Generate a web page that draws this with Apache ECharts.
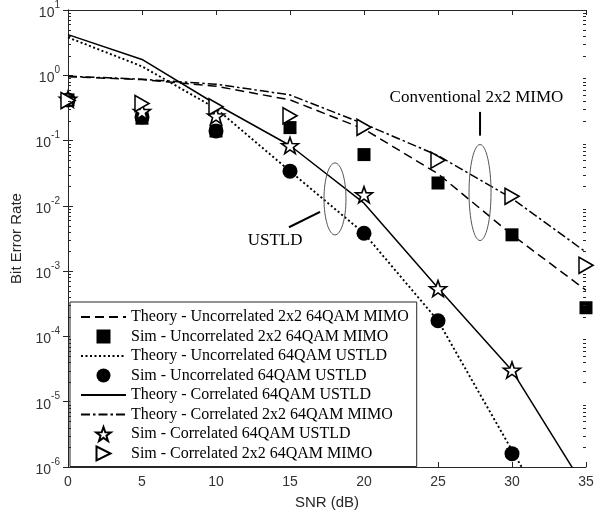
<!DOCTYPE html>
<html>
<head>
<meta charset="utf-8">
<script src="https://cdn.jsdelivr.net/npm/echarts@6.0.0/dist/echarts.min.js"></script>
<style>
  html, body { margin: 0; padding: 0; background: #fff; }
  #main { width: 608px; height: 518px; }
</style>
</head>
<body>
<div id="main"></div>
<script>
// SNR points (dB)
var snr = [0, 5, 10, 15, 20, 25, 30, 35];

// values
var theoryUncorrMimo  = [0.95, 0.86, 0.68, 0.42, 0.15, 0.031, 0.0036, 0.00051];
var simUncorrMimo     = [0.42, 0.22, 0.14, 0.158, 0.061, 0.0224, 0.0036, 0.000275];
var theoryUncorrUstld = [3.8, 1.37, 0.31, 0.034, 0.0038, 0.000174, 0.0000018, 0.00000002];
var simUncorrUstld    = [0.42, 0.23, 0.14, 0.034, 0.0038, 0.000174, 0.0000016];
var theoryCorrUstld   = [4.2, 1.75, 0.36, 0.084, 0.011, 0.00055, 0.00003, 0.00000045];
var theoryCorrMimo    = [0.97, 0.87, 0.73, 0.5, 0.18, 0.059, 0.013, 0.00195];
var simCorrUstld      = [0.43, 0.28, 0.24, 0.084, 0.0148, 0.00054, 0.0000305];
var simCorrMimo       = [0.41, 0.37, 0.33, 0.24, 0.16, 0.05, 0.014, 0.00123];

var xTicks = [0, 5, 10, 15, 20, 25, 30, 35];
var yDecades = [-6, -5, -4, -3, -2, -1, 0, 1];

var names = [
  'Theory - Uncorrelated 2x2 64QAM MIMO',
  'Sim - Uncorrelated 2x2 64QAM MIMO',
  'Theory - Uncorrelated 64QAM USTLD',
  'Sim - Uncorrelated 64QAM USTLD',
  'Theory - Correlated 64QAM USTLD',
  'Theory - Correlated 2x2 64QAM MIMO',
  'Sim - Correlated 64QAM USTLD',
  'Sim - Correlated 2x2 64QAM MIMO'
];

var STAR = 'path://M50,0L61.76,33.82L97.55,34.55L69.02,56.18L79.39,90.45L50,70L20.61,90.45L30.98,56.18L2.45,34.55L38.24,33.82Z';
var TRI_RIGHT = 'path://M0,0L100,50L0,100Z';
var SQUARE = 'path://M0,0L10,0L10,10L0,10Z';

var axisColor = '#262626';
var serif = '"Liberation Serif", "Times New Roman", serif';
var sans = '"Liberation Sans", Arial, sans-serif';

function pts(arr) {
  return arr.map(function (v, i) { return [snr[i], v]; });
}

function theory(name, arr, dash, w) {
  return {
    name: name,
    type: 'line',
    data: pts(arr),
    symbol: 'none',
    clip: true,
    z: 2,
    lineStyle: { color: '#000', width: w || 1.5, type: dash },
    itemStyle: { color: '#000' }
  };
}

function sim(name, arr, symbol, size, filled) {
  return {
    name: name,
    type: 'scatter',
    data: pts(arr),
    symbol: symbol,
    symbolSize: size,
    z: 3,
    itemStyle: filled
      ? { color: '#000', borderColor: '#000', borderWidth: 0, opacity: 1 }
      : { color: '#fff', borderColor: '#000', borderWidth: 1.6, opacity: 1 }
  };
}

// legend entries: theory lines get no marker in the middle
var legendData = names.map(function (n) {
  if (n.indexOf('Theory') === 0) {
    return { name: n, itemStyle: { color: 'rgba(0,0,0,0)', borderColor: 'rgba(0,0,0,0)', borderWidth: 0 } };
  }
  return { name: n };
});

var chart = echarts.init(document.getElementById('main'), null, { renderer: 'canvas' });

var option = {
  animation: false,
  backgroundColor: '#fff',
  grid: { left: 68, right: 22, top: 5, bottom: 51, show: false },
  legend: {
    orient: 'vertical',
    left: 70,
    top: 302,
    padding: [7, 8, 5, 10],
    itemWidth: 45,
    itemHeight: 14,
    itemGap: 3.5,
    backgroundColor: '#fff',
    borderColor: axisColor,
    borderWidth: 1,
    borderRadius: 0,
    textStyle: { fontFamily: serif, fontSize: 16, color: '#000', lineHeight: 16 },
    data: legendData
  },
  xAxis: [{
    type: 'value',
    min: 0,
    max: 35,
    interval: 5,
    name: 'SNR (dB)',
    nameLocation: 'middle',
    nameGap: 28,
    nameTextStyle: { fontFamily: sans, fontSize: 15, color: axisColor },
    axisLine: { show: true, lineStyle: { color: axisColor, width: 1 } },
    axisTick: { show: true, inside: true, length: 5, lineStyle: { color: axisColor } },
    axisLabel: {
      margin: 8,
      fontFamily: sans,
      fontSize: 14,
      color: '#333',
      formatter: function (v) { return xTicks.indexOf(v) >= 0 ? String(v) : ''; }
    },
    splitLine: { show: false }
  }, {
    type: 'value',
    position: 'top',
    min: 0,
    max: 35,
    interval: 5,
    axisLine: { show: true, lineStyle: { color: axisColor, width: 1 } },
    axisTick: { show: true, inside: true, length: 5, lineStyle: { color: axisColor } },
    axisLabel: { show: false },
    splitLine: { show: false }
  }],
  yAxis: [{
    type: 'log',
    logBase: 10,
    min: 1e-6,
    max: 10,
    interval: 1,
    name: 'Bit Error Rate',
    nameLocation: 'middle',
    nameGap: 32,
    nameTextStyle: { fontFamily: sans, fontSize: 15, color: axisColor },
    axisLine: { show: true, lineStyle: { color: axisColor, width: 1 } },
    axisTick: { show: true, inside: true, length: 5, lineStyle: { color: axisColor } },
    axisLabel: {
      margin: 8,
      color: '#333',
      formatter: function (v) {
        var e = Math.round(Math.log10(v));
        return '{b|10}{s|' + e + '}';
      },
      rich: {
        b: { fontFamily: sans, fontSize: 14, color: '#333', verticalAlign: 'bottom', lineHeight: 20 },
        s: { fontFamily: sans, fontSize: 10, color: '#333', verticalAlign: 'top', lineHeight: 12 }
      }
    },
    splitLine: { show: false }
  }, {
    type: 'log',
    logBase: 10,
    min: 1e-6,
    max: 10,
    interval: 1,
    position: 'right',
    axisLine: { show: true, lineStyle: { color: axisColor, width: 1 } },
    axisTick: { show: true, inside: true, length: 5, lineStyle: { color: axisColor } },
    axisLabel: { show: false },
    splitLine: { show: false }
  }],
  series: [
    theory(names[0], theoryUncorrMimo, [9, 5]),
    sim(names[1], simUncorrMimo, SQUARE, 13, true),
    theory(names[2], theoryUncorrUstld, [2, 2.5], 1.9),
    sim(names[3], simUncorrUstld, 'circle', 15, true),
    theory(names[4], theoryCorrUstld, 'solid'),
    theory(names[5], theoryCorrMimo, [9, 3, 2.5, 3]),
    sim(names[6], simCorrUstld, STAR, [17, 16], false),
    sim(names[7], simCorrMimo, TRI_RIGHT, [14, 16], false)
  ]
};

chart.setOption(option);

// minor log ticks + annotations, placed through the axes
var gfx = [];
var xl = chart.convertToPixel({ xAxisIndex: 0 }, 0);
var xr = chart.convertToPixel({ xAxisIndex: 0 }, 35);
yDecades.slice(0, -1).forEach(function (e) {
  for (var k = 2; k <= 9; k++) {
    var y = Math.round(chart.convertToPixel({ yAxisIndex: 0 }, k * Math.pow(10, e))) + 0.5;
    gfx.push({ type: 'line', silent: true, z: 10, shape: { x1: xl, y1: y, x2: xl + 3, y2: y }, style: { stroke: axisColor, lineWidth: 1 } });
    gfx.push({ type: 'line', silent: true, z: 10, shape: { x1: xr - 3, y1: y, x2: xr, y2: y }, style: { stroke: axisColor, lineWidth: 1 } });
  }
});

function px(p) { return chart.convertToPixel({ gridIndex: 0 }, p); }

// "Conventional 2x2 MIMO" group
var c1 = px([27.84, 0.016]);
gfx.push({ type: 'ellipse', silent: true, z: 5, shape: { cx: c1[0], cy: c1[1], rx: 11, ry: 48 }, style: { fill: 'none', stroke: '#555', lineWidth: 1 } });
var l1a = px([27.84, 0.275]), l1b = px([27.84, 0.119]);
gfx.push({ type: 'line', silent: true, z: 5, shape: { x1: l1a[0], y1: l1a[1], x2: l1b[0], y2: l1b[1] }, style: { stroke: '#000', lineWidth: 2 } });
var t1 = px([27.6, 0.46]);
gfx.push({ type: 'text', silent: true, z: 5, x: t1[0], y: t1[1], style: { text: 'Conventional 2x2 MIMO', font: '17px ' + serif, fill: '#000', align: 'center', verticalAlign: 'middle' } });

// "USTLD" group
var c2 = px([18.04, 0.01277]);
gfx.push({ type: 'ellipse', silent: true, z: 5, shape: { cx: c2[0], cy: c2[1], rx: 11, ry: 36 }, style: { fill: 'none', stroke: '#555', lineWidth: 1 } });
var l2a = px([17.03, 0.0081]), l2b = px([14.93, 0.0047]);
gfx.push({ type: 'line', silent: true, z: 5, shape: { x1: l2a[0], y1: l2a[1], x2: l2b[0], y2: l2b[1] }, style: { stroke: '#000', lineWidth: 2 } });
var t2 = px([13.99, 0.0029]);
gfx.push({ type: 'text', silent: true, z: 5, x: t2[0], y: t2[1], style: { text: 'USTLD', font: '17px ' + serif, fill: '#000', align: 'center', verticalAlign: 'middle' } });

chart.setOption({ graphic: gfx });
</script>
</body>
</html>
